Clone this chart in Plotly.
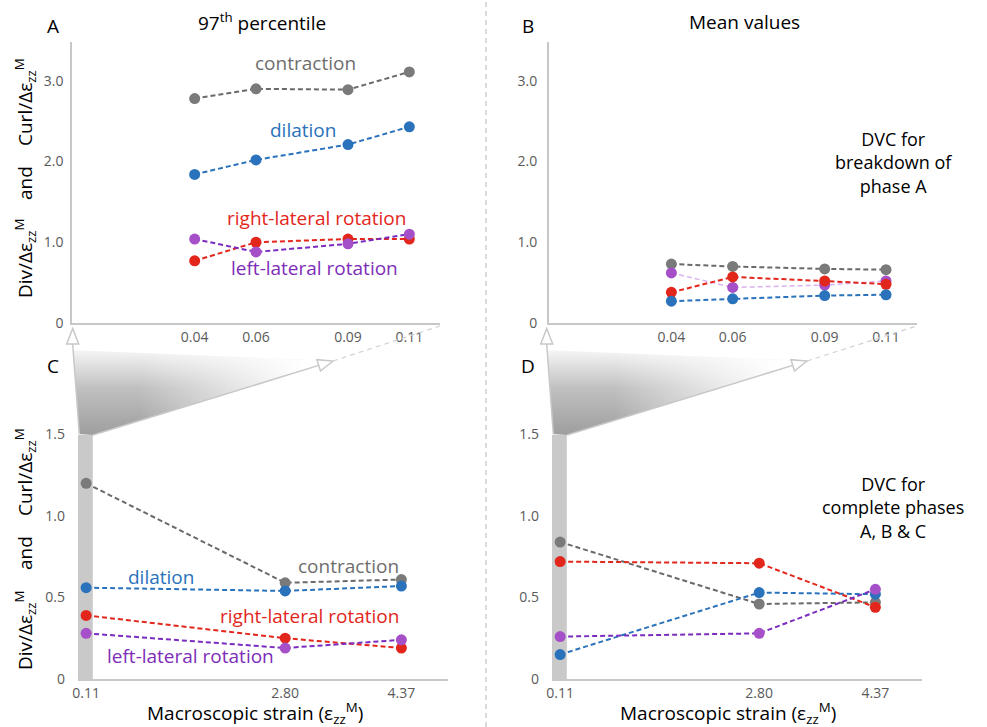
import plotly.graph_objects as go

W, H = 987, 727

# ---------------- data ----------------
strain_top = [0.04, 0.06, 0.09, 0.11]
strain_top_labels = ["0.04", "0.06", "0.09", "0.11"]

p97_contraction = [2.78, 2.90, 2.89, 3.11]
p97_dilation = [1.84, 2.02, 2.21, 2.43]
p97_right_lateral = [0.77, 1.00, 1.04, 1.04]
p97_left_lateral = [1.04, 0.88, 0.98, 1.10]

mean_contraction = [0.73, 0.70, 0.67, 0.66]
mean_dilation = [0.27, 0.30, 0.34, 0.35]
mean_right_lateral = [0.38, 0.57, 0.52, 0.48]
mean_left_lateral = [0.62, 0.44, 0.47, 0.52]

strain_bottom = [0.11, 2.80, 4.37]
strain_bottom_labels = ["0.11", "2.80", "4.37"]

c_contraction = [1.20, 0.59, 0.61]
c_dilation = [0.56, 0.54, 0.57]
c_right_lateral = [0.39, 0.25, 0.19]
c_left_lateral = [0.28, 0.19, 0.24]

d_contraction = [0.84, 0.46, 0.47]
d_dilation = [0.15, 0.53, 0.52]
d_right_lateral = [0.72, 0.71, 0.44]
d_left_lateral = [0.26, 0.28, 0.55]

top_yticks = [0, 1.0, 2.0, 3.0]
top_yticklabels = ["0", "1.0", "2.0", "3.0"]
bottom_yticks = [0, 0.5, 1.0, 1.5]
bottom_yticklabels = ["0", "0.5", "1.0", "1.5"]

# ---------------- style ----------------
FONT = "Open Sans, Noto Sans, sans-serif"
AX = "#c8c8c8"
TICK = "#5a5a5a"
GRAY_DOT, GRAY_LINE, GRAY_TXT = "#7a7a7a", "#6a6a6a", "#6e6e6e"
BLUE = "#2a72bb"
RED = "#e2261b"
PURPLE_DOT, PURPLE_LINE, PURPLE_TXT = "#a550c9", "#7a2cc0", "#7d2db8"
LAVENDER = "#d9b3ee"
DASH = "5px,3px"


def px(x):
    return x / W


def py(y):
    return 1 - y / H


fig = go.Figure()


def series(x, y, ax, line_color, marker_color, lw=2.0, dash=DASH):
    fig.add_trace(go.Scatter(
        x=x, y=y, xaxis="x" + ax, yaxis="y" + ax, mode="lines+markers",
        line=dict(color=line_color, width=lw, dash=dash),
        marker=dict(color=marker_color, size=11),
        showlegend=False, hoverinfo="skip"))


# Panel A
series(strain_top, p97_contraction, "", GRAY_LINE, GRAY_DOT)
series(strain_top, p97_dilation, "", BLUE, BLUE)
series(strain_top, p97_right_lateral, "", RED, RED)
series(strain_top, p97_left_lateral, "", PURPLE_LINE, PURPLE_DOT)
# Panel B
series(strain_top, mean_contraction, "2", GRAY_LINE, GRAY_DOT)
series(strain_top, mean_left_lateral, "2", LAVENDER, PURPLE_DOT, lw=1.5)
series(strain_top, mean_right_lateral, "2", RED, RED)
series(strain_top, mean_dilation, "2", BLUE, BLUE)
# Panel C
series(strain_bottom, c_contraction, "3", GRAY_LINE, GRAY_DOT)
series(strain_bottom, c_dilation, "3", BLUE, BLUE)
series(strain_bottom, c_right_lateral, "3", RED, RED)
series(strain_bottom, c_left_lateral, "3", PURPLE_LINE, PURPLE_DOT)
# Panel D
series(strain_bottom, d_contraction, "4", GRAY_LINE, GRAY_DOT)
series(strain_bottom, d_dilation, "4", BLUE, BLUE)
series(strain_bottom, d_right_lateral, "4", RED, RED)
series(strain_bottom, d_left_lateral, "4", PURPLE_LINE, PURPLE_DOT)

# gradient wedges (zoom indicators) drawn on a pixel overlay axis
shapes = []
for dx, x_end in [(0, 440), (474, 916.7)]:
    wx = [73 + dx, 79.3 + dx, 93 + dx, 333 + dx, 73 + dx]
    wy = [350, 434, 435, 361, 350]
    fig.add_trace(go.Scatter(
        x=wx, y=wy, xaxis="x5", yaxis="y5", mode="none", fill="toself",
        fillgradient=dict(type="vertical", start=435, stop=350,
                          colorscale=[[0, "rgb(158,158,158)"], [0.55, "rgb(192,192,192)"],
                                      [1, "rgb(246,246,246)"]]),
        showlegend=False, hoverinfo="skip"))
    fig.add_trace(go.Scatter(
        x=wx, y=wy, xaxis="x5", yaxis="y5", mode="none", fill="toself",
        fillgradient=dict(type="horizontal", start=140 + dx, stop=305 + dx,
                          colorscale=[[0, "rgba(255,255,255,0)"], [1, "rgba(255,255,255,1)"]]),
        showlegend=False, hoverinfo="skip"))
    lc = dict(color=AX, width=1.5)
    shapes += [
        dict(type="line", xref="x5", yref="y5", x0=79.3 + dx, y0=434, x1=72.7 + dx, y1=344, line=lc),
        dict(type="path", xref="x5", yref="y5",
             path=f"M {72.7+dx} 328.5 L {66.7+dx} 344 L {78.7+dx} 344 Z",
             fillcolor="white", line=lc),
        dict(type="line", xref="x5", yref="y5", x0=93 + dx, y0=435, x1=318.7 + dx, y1=365.4, line=lc),
        dict(type="path", xref="x5", yref="y5",
             path=f"M {333+dx} 361 L {320.5+dx} 371.1 L {316.9+dx} 359.7 Z",
             fillcolor="white", line=lc),
        dict(type="line", xref="x5", yref="y5", x0=333 + dx, y0=361, x1=x_end, y1=326,
             line=dict(color="#d2d2d2", width=1.2, dash="5px,4px")),
    ]

# phase-A bars at 0.11 in C and D
for ax in ["x3", "x4"]:
    shapes.append(dict(type="rect", xref=ax, yref="y" + ax[1:], x0=0, x1=0.2, y0=0, y1=1.5,
                       fillcolor="#c9c9c9", line=dict(width=0), layer="below"))

# vertical separator
shapes.append(dict(type="line", xref="paper", yref="paper", x0=px(486), x1=px(486), y0=0, y1=1,
                   line=dict(color="#c8c8c8", width=1.3, dash="5px,4px")))

tickfont = dict(family=FONT, size=14, color=TICK)
xbase = dict(showgrid=False, zeroline=False, showline=True, linecolor=AX, linewidth=1.5,
             ticks="", tickfont=tickfont, fixedrange=True, automargin=False)
ybase = dict(showgrid=False, zeroline=False, linecolor=AX, linewidth=1.5,
             ticks="", tickfont=tickfont, fixedrange=True, automargin=False)

fig.update_layout(
    template="none",
    width=W, height=H, margin=dict(l=0, r=0, t=0, b=0, pad=0), autosize=False,
    paper_bgcolor="white", plot_bgcolor="rgba(0,0,0,0)",
    font=dict(family=FONT, color="black"),
    showlegend=False,
    xaxis=dict(xbase, domain=[px(72), px(440)], range=[0, 0.12], anchor="y",
               tickvals=strain_top, ticktext=strain_top_labels),
    yaxis=dict(ybase, domain=[py(323), py(42)], range=[0, 3.48], anchor="x", showline=True,
               tickvals=top_yticks, ticktext=top_yticklabels, ticklabelstandoff=4),
    xaxis2=dict(xbase, domain=[px(548.7), px(916.7)], range=[0, 0.12], anchor="y2",
                tickvals=strain_top, ticktext=strain_top_labels),
    yaxis2=dict(ybase, domain=[py(323), py(42)], range=[0, 3.48], anchor="x2", showline=True,
                tickvals=top_yticks, ticktext=top_yticklabels, ticklabelstandoff=7),
    xaxis3=dict(xbase, domain=[px(78), px(448)], range=[0, 5.0], anchor="y3",
                tickvals=strain_bottom, ticktext=strain_bottom_labels),
    yaxis3=dict(ybase, domain=[py(679), py(434.4)], range=[0, 1.5], anchor="x3", showline=False,
                tickvals=bottom_yticks, ticktext=bottom_yticklabels, ticklabelstandoff=12),
    xaxis4=dict(xbase, domain=[px(552), px(922)], range=[0, 5.0], anchor="y4",
                tickvals=strain_bottom, ticktext=strain_bottom_labels),
    yaxis4=dict(ybase, domain=[py(679), py(434.4)], range=[0, 1.5], anchor="x4", showline=False,
                tickvals=bottom_yticks, ticktext=bottom_yticklabels, ticklabelstandoff=12),
    xaxis5=dict(domain=[0, 1], range=[0, W], anchor="y5", visible=False, fixedrange=True,
                automargin=False),
    yaxis5=dict(domain=[0, 1], range=[H, 0], anchor="x5", visible=False, fixedrange=True,
                automargin=False),
    shapes=shapes,
)

ann = []


def text(x, y, s, size=19, color="black", angle=0, align="center"):
    ann.append(dict(x=px(x), y=py(y), xref="paper", yref="paper", text=s, showarrow=False,
                    xanchor="center", yanchor="middle", textangle=angle, align=align,
                    font=dict(family=FONT, size=size, color=color)))


EPS = ("ε<sub style=\"font-size:12px\">zz</sub>"
       "<sup style=\"font-size:12px\">M</sup>")

# panel letters & titles
text(53, 26, "A", 19)
text(528, 26, "B", 19)
text(53, 366, "C", 19)
text(528, 366, "D", 19)
text(262, 22, "97<sup>th</sup> percentile", 19)
text(744, 22, "Mean values", 19)

# y-axis labels (rotated)
for yd, ya, yc in [(258, 183, 102), (630, 553, 472)]:
    text(25, yd, "Div/Δ" + EPS, 19, angle=-90)
    text(25, ya, "and", 19, angle=-90)
    text(25, yc, "Curl/Δ" + EPS, 19, angle=-90)

# series labels A
text(305, 63, "contraction", 19, GRAY_TXT)
text(303, 130, "dilation", 19, BLUE)
text(316, 218, "right-lateral rotation", 19, RED)
text(314, 268, "left-lateral rotation", 19, PURPLE_TXT)
# series labels C
text(161, 577, "dilation", 19, BLUE)
text(348, 566, "contraction", 19, GRAY_TXT)
text(309, 616, "right-lateral rotation", 19, RED)
text(190, 656, "left-lateral rotation", 19, PURPLE_TXT)

# notes
text(893, 162, "DVC for<br>breakdown of<br>phase A", 18)
text(893, 508, "DVC for<br>complete phases<br>A, B &amp; C", 18)

# x-axis titles
text(255, 713, "Macroscopic strain (" + EPS + ")", 19)
text(728, 713, "Macroscopic strain (" + EPS + ")", 19)

fig.update_layout(annotations=ann)

fig.write_html(
    "out.html",
    config={"displayModeBar": False},
    post_script="document.body.style.margin='0px';document.body.style.overflow='hidden';",
)
